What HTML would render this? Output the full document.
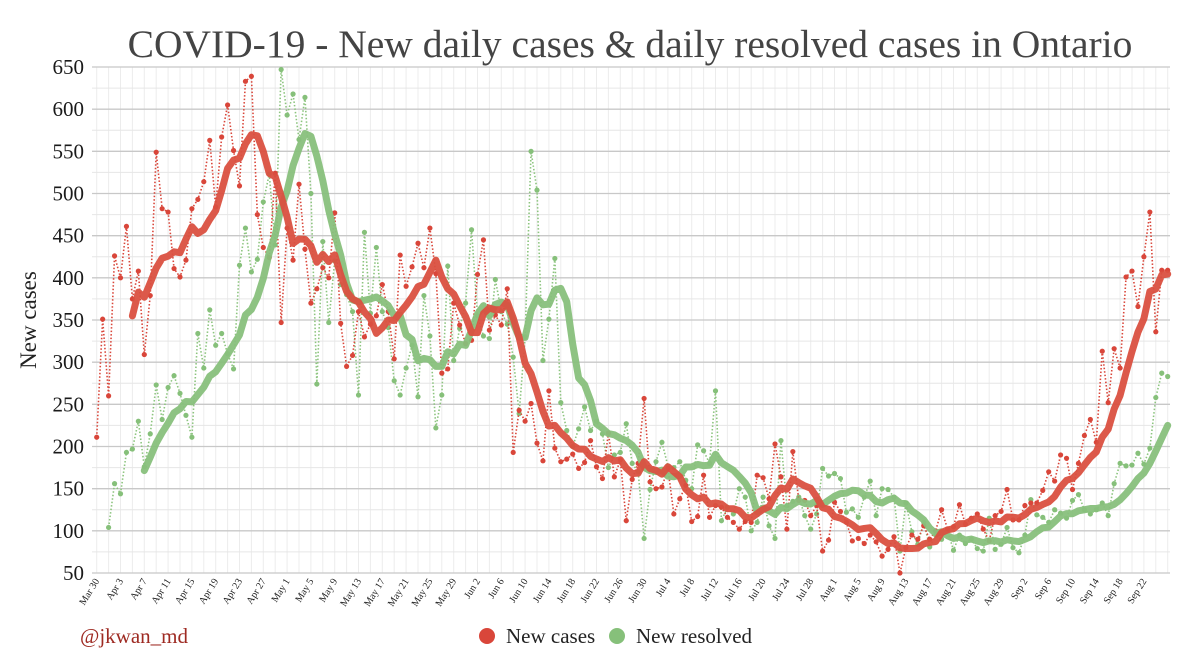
<!DOCTYPE html>
<html><head><meta charset="utf-8">
<style>
html,body{margin:0;padding:0;background:#fff;}
svg{display:block;font-family:"Liberation Serif",serif;}
</style></head>
<body>
<svg id="chart" width="1200" height="667" viewBox="0 0 1200 667">
<text x="630" y="57" text-anchor="middle" font-size="39.5" fill="#444">COVID-19 - New daily cases &amp; daily resolved cases in Ontario</text>
<text transform="translate(36,320) rotate(-90)" text-anchor="middle" font-size="23" fill="#222">New cases</text>
<g id="grid"></g>
<g id="yticks"></g>
<g id="xticks"></g>
<g id="series"></g>
<text x="80" y="643" font-size="21" fill="#9e2a22">@jkwan_md</text>
<g>
<g><circle cx="487" cy="636" r="8" fill="#d9463a"/><text x="506" y="643" font-size="21" fill="#222">New cases</text></g>
<g><circle cx="617" cy="636" r="8" fill="#86c07a"/><text x="636" y="643" font-size="21" fill="#222">New resolved</text></g>
</g>
</svg>
<script>
const startDate = new Date(2020, 2, 30);
const yTicks = [50,100,150,200,250,300,350,400,450,500,550,600,650];
const newCases = [211,351,260,426,400,461,375,408,309,379,549,482,478,411,401,421,482,493,514,563,484,567,605,551,509,633,639,475,436,424,524,347,459,421,511,434,370,387,412,400,477,346,295,308,360,330,345,355,392,360,304,427,390,413,441,412,459,405,287,292,370,344,322,326,404,445,338,356,344,387,193,243,230,251,204,183,266,198,182,185,191,174,181,207,176,162,216,164,184,112,161,180,257,158,150,152,174,120,138,154,111,117,166,116,130,128,116,110,102,111,110,166,163,138,203,164,102,194,136,136,118,130,76,89,134,123,110,88,91,85,95,87,70,78,93,50,80,95,90,106,90,100,125,102,105,131,108,115,120,102,88,118,123,149,113,113,130,133,133,148,170,159,190,186,149,180,213,232,205,313,252,316,293,401,408,366,425,478,336,409,409];
const newResolved = [null,null,104,156,144,193,197,230,176,215,273,232,270,284,263,237,211,334,293,362,320,334,310,292,415,459,407,422,490,523,439,647,593,618,564,614,500,274,443,347,420,392,380,360,261,454,358,436,360,341,278,261,293,320,259,379,331,222,261,414,302,340,370,457,355,331,328,398,360,345,306,239,330,550,504,302,351,423,252,219,200,221,247,219,230,215,175,190,193,227,180,170,91,149,182,205,177,175,182,160,150,202,195,180,266,112,128,120,150,140,100,110,140,106,91,207,130,135,140,118,102,120,174,165,168,162,122,126,116,140,159,118,150,149,140,76,133,99,84,110,81,95,90,100,77,95,85,90,79,76,115,78,84,104,80,74,95,137,119,116,110,125,121,115,136,143,125,120,125,133,118,156,180,177,178,192,179,198,258,287,283];

const X0 = 96.7, DX = 5.95, Y0 = 573, Y1 = 67;
const xs = d => X0 + d * DX;
const ys = v => Y0 - (v - 50) * (Y0 - Y1) / 600;
const NS = 'http://www.w3.org/2000/svg';
function mk(tag, parent, attrs) {
  const e = document.createElementNS(NS, tag);
  for (const k in attrs) e.setAttribute(k, attrs[k]);
  parent.appendChild(e);
  return e;
}
const grid = document.getElementById('grid');
const nDays = newCases.length;
const xLeft = 92, xRight = 1170;
for (let d = 0; d <= nDays; d += 2) {
  const l = mk('line', grid, {x1: xs(d), x2: xs(d), y1: Y1, y2: Y0, stroke: '#ececec', 'stroke-width': 1});
  
  
}
for (let v = 75; v < 650; v += 50) {
  const l = mk('line', grid, {x1: xLeft, x2: xRight, y1: ys(v), y2: ys(v), stroke: '#e6e6e6', 'stroke-width': 1});
  
  
}
const yt = document.getElementById('yticks');
yTicks.forEach(v => {
  const l = mk('line', grid, {x1: xLeft, x2: xRight, y1: ys(v), y2: ys(v), stroke: '#c8c8c8', 'stroke-width': 1.3});
  
  
  const t = mk('text', yt, {x: 84, y: ys(v) + 7, 'text-anchor': 'end', 'font-size': 21, fill: '#1a1a1a'});
  t.textContent = v;
  
  
});
const mon = ['Jan','Feb','Mar','Apr','May','Jun','Jul','Aug','Sep','Oct','Nov','Dec'];
const xt = document.getElementById('xticks');
for (let d = 0; d < nDays - 4; d += 4) {
  const dt = new Date(startDate.getTime() + d * 86400000);
  const t = mk('text', xt, {transform: `translate(${xs(d)+3},${Y0+8}) rotate(-58)`, 'text-anchor': 'end', 'font-size': 10, fill: '#222'});
  t.textContent = mon[dt.getMonth()] + ' ' + dt.getDate();
  
  
}
function movingAvg(arr) {
  const out = [];
  for (let i = 0; i < arr.length; i++) {
    const w = arr.slice(Math.max(0, i - 6), i + 1);
    if (i < 6 || w.some(v => v === null)) { out.push(null); continue; }
    out.push(w.reduce((a, b) => a + b, 0) / 7);
  }
  return out;
}
const ser = document.getElementById('series');
function drawSeries(arr, dotColor, lineColor, name) {
  const pts = [];
  arr.forEach((v, i) => { if (v !== null) pts.push([xs(i), ys(v)]); });
  const p = mk('polyline', ser, {points: pts.map(q => q.join(',')).join(' '), fill: 'none', stroke: lineColor, 'stroke-width': 1.6, 'stroke-dasharray': '1.5 2'});
  
  
  arr.forEach((v, i) => {
    if (v === null) return;
    const c = mk('circle', ser, {cx: xs(i), cy: ys(v), r: 2.6, fill: dotColor});
    
    
  });
  return movingAvg(arr);
}
function drawMA(ma, color, name) {
  const pts = [];
  ma.forEach((v, i) => { if (v !== null) pts.push(xs(i) + ',' + ys(v)); });
  const p = mk('polyline', ser, {points: pts.join(' '), fill: 'none', stroke: color, 'stroke-width': 7, 'stroke-linejoin': 'round', 'stroke-linecap': 'round', opacity: 0.95});
  
  
}
const maR = drawSeries(newResolved, '#86c07a', '#8cc47e', 'new-resolved');
const maC = drawSeries(newCases, '#d9463a', '#d9463a', 'new-cases');
drawMA(maR, '#88c07c', 'new-resolved');
drawMA(maC, '#da5040', 'new-cases');
</script>
</body></html>
